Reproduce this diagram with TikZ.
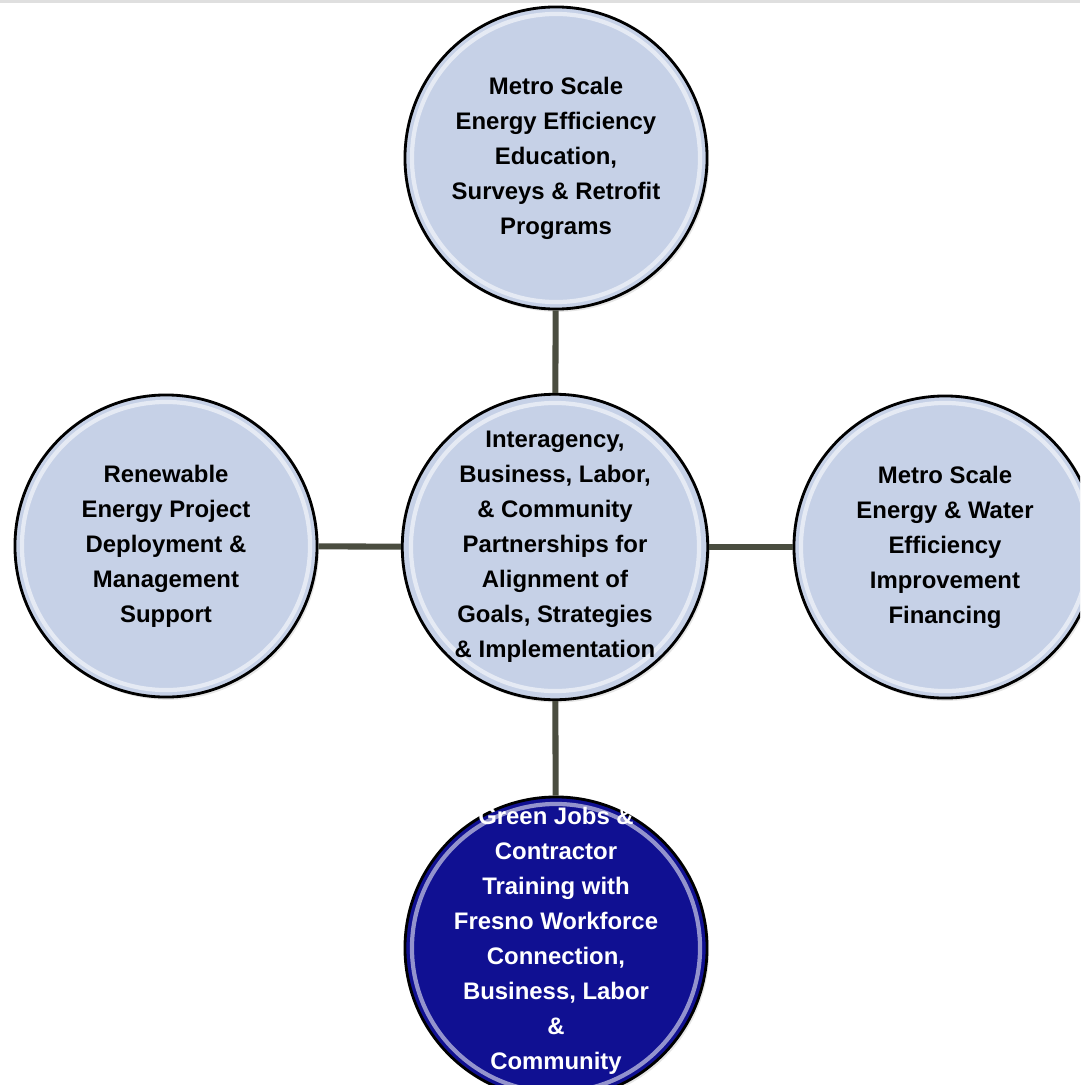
\documentclass[tikz,border=0pt]{standalone}
\usepackage{fontspec}
\setmainfont{Liberation Sans}
\usetikzlibrary{shadows}
\definecolor{bubble}{RGB}{198,209,231}
\definecolor{bubbledark}{RGB}{16,16,146}
\definecolor{linkgray}{RGB}{74,77,64}

\begin{document}
\begin{tikzpicture}[x=0.025cm,y=-0.025cm,
    goal/.style={circle,draw=black,line width=2pt,fill=bubble,minimum size=7.55cm,inner sep=0pt,
        align=center,font=\fontsize{17}{24.9}\selectfont\bfseries,
        drop shadow={opacity=0.2,shadow xshift=1.5pt,shadow yshift=-2pt},
        path picture={\draw[white,opacity=0.55,line width=3pt] (path picture bounding box.center) circle[radius=3.6cm];}},
    jobsgoal/.style={goal,fill=bubbledark},
    goaltext/.style={align=center,inner sep=0pt,text=white,font=\fontsize{17}{24.9}\selectfont\bfseries},
    spoke/.style={draw=linkgray,line width=4.3pt}]
\useasboundingbox (0,0) rectangle (1080,1085);
\clip (0,0) rectangle (1080,1085);
\fill[gray!25] (0,0) rectangle (1080,3);
% the five goals
\node[goal] (hub) at (555,547) {Interagency,\\Business, Labor,\\\& Community\\Partnerships for\\Alignment of\\Goals, Strategies\\\& Implementation};
\node[goal] (efficiency) at (556,158) {Metro Scale\\Energy Efficiency\\Education,\\Surveys \& Retrofit\\Programs};
\node[goal] (renewable) at (166,546) {Renewable\\Energy Project\\Deployment \&\\Management\\Support};
\node[goal] (financing) at (945,547) {Metro Scale\\Energy \& Water\\Efficiency\\Improvement\\Financing};
\node[jobsgoal] (jobs) at (556,948) {};
\node[goaltext] (jobstext) at (556,941) {Green Jobs \&\\Contractor\\Training with\\Fresno Workforce\\Connection,\\Business, Labor\\\&\\Community};
% spokes
\draw[spoke] (efficiency) -- (hub);
\draw[spoke] (renewable) -- (hub);
\draw[spoke] (hub) -- (financing);
\draw[spoke] (hub) -- (jobs);
\end{tikzpicture}
\end{document}
